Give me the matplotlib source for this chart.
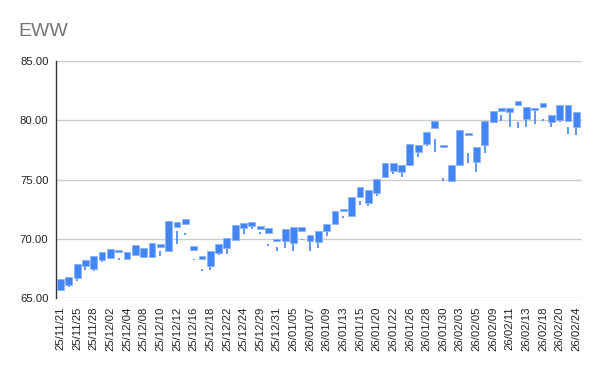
import matplotlib
matplotlib.use("Agg")
import matplotlib.pyplot as plt
import numpy as np

plt.rcParams["font.family"] = ["Liberation Sans", "DejaVu Sans"]

# trading days shown in the chart
dates = [
    "25/11/21", "25/11/24", "25/11/25", "25/11/26", "25/11/28",
    "25/12/01", "25/12/02", "25/12/03", "25/12/04", "25/12/05",
    "25/12/08", "25/12/09", "25/12/10", "25/12/11", "25/12/12",
    "25/12/15", "25/12/16", "25/12/17", "25/12/18", "25/12/19",
    "25/12/22", "25/12/23", "25/12/24", "25/12/26", "25/12/29",
    "25/12/30", "25/12/31", "26/01/02", "26/01/05", "26/01/06",
    "26/01/07", "26/01/08", "26/01/09", "26/01/12", "26/01/13",
    "26/01/14", "26/01/15", "26/01/16", "26/01/20", "26/01/21",
    "26/01/22", "26/01/23", "26/01/26", "26/01/27", "26/01/28",
    "26/01/29", "26/01/30", "26/02/02", "26/02/03", "26/02/04",
    "26/02/05", "26/02/06", "26/02/09", "26/02/10", "26/02/11",
    "26/02/12", "26/02/13", "26/02/17", "26/02/18", "26/02/19",
    "26/02/20", "26/02/23", "26/02/24",
]

# candle body (open / close) and wick (low / high)
open_ = [
    66.63, 66.80, 67.87, 68.23, 68.59, 68.93, 69.16, 69.08, 68.88, 69.50,
    69.22, 69.64, 69.56, 71.52, 71.46, 71.69, 69.41, 68.57, 68.99, 69.58,
    70.11, 71.21, 71.38, 71.44, 71.10, 70.93, 70.03, 70.87, 71.04, 71.04,
    70.32, 70.70, 71.27, 72.37, 72.54, 73.52, 74.42, 74.14, 75.04, 76.44,
    76.39, 76.22, 78.02, 77.96, 79.02, 79.96, 77.94, 76.25, 79.20, 78.92,
    77.79, 79.99, 80.83, 81.03, 81.03, 81.68, 81.12, 81.03, 81.46, 80.44,
    81.29, 81.29, 80.72,
]
close = [
    65.73, 66.12, 66.74, 67.75, 67.47, 68.23, 68.43, 68.93, 68.32, 68.65,
    68.51, 68.46, 69.30, 68.99, 71.02, 71.27, 69.05, 68.29, 67.75, 68.80,
    69.22, 69.92, 70.93, 71.10, 70.82, 70.54, 69.81, 69.86, 69.69, 70.70,
    69.86, 69.72, 70.70, 71.24, 72.39, 71.95, 73.57, 73.02, 73.86, 75.26,
    75.77, 75.66, 76.22, 77.37, 78.01, 79.36, 77.78, 74.87, 76.25, 78.81,
    76.50, 77.96, 79.90, 80.83, 80.75, 81.31, 80.16, 80.86, 81.17, 79.88,
    80.05, 79.99, 79.48,
]
low = [
    65.62, 65.98, 66.49, 67.41, 67.30, 68.04, 68.43, 68.21, 68.32, 68.57,
    68.38, 68.42, 68.60, 68.99, 69.56, 70.32, 68.19, 67.26, 67.39, 68.65,
    68.71, 69.92, 70.43, 70.82, 70.43, 69.40, 68.97, 69.24, 68.97, 69.90,
    69.02, 69.27, 70.28, 71.24, 71.75, 71.89, 72.85, 72.79, 73.63, 75.13,
    75.46, 75.21, 76.22, 76.90, 77.88, 77.37, 74.90, 74.81, 76.25, 76.44,
    75.68, 77.24, 79.90, 79.99, 79.48, 79.35, 79.48, 79.71, 79.92, 79.48,
    79.85, 78.86, 78.75,
]
high = [
    66.63, 66.80, 67.87, 68.23, 68.59, 68.93, 69.16, 68.43, 68.88, 69.50,
    69.22, 69.64, 69.02, 71.52, 70.68, 70.47, 68.34, 67.47, 68.99, 69.58,
    70.11, 71.21, 71.38, 71.44, 70.56, 69.54, 69.35, 70.87, 71.04, 70.00,
    70.32, 70.70, 71.27, 72.37, 71.95, 73.52, 73.24, 74.14, 75.04, 76.44,
    76.39, 76.22, 78.02, 77.96, 79.02, 78.42, 75.11, 76.25, 79.20, 77.24,
    77.79, 79.99, 80.83, 80.47, 81.03, 79.88, 81.12, 81.03, 80.12, 80.44,
    81.29, 79.48, 80.72,
]

BLUE = "#4285F4"

x = np.arange(len(dates))
o = np.array(open_)
c = np.array(close)

fig = plt.figure(figsize=(6.0, 3.71), dpi=100)
ax = fig.add_axes([0.0925, 0.196, 0.877, 0.639])

ax.vlines(x, low, high, color=BLUE, linewidth=1.2, capstyle="butt", zorder=2)
ax.bar(x, np.abs(o - c), bottom=np.minimum(o, c), width=0.82,
       color=BLUE, edgecolor="#8db4f8", linewidth=0.6, zorder=3)

ax.set_xlim(-0.6, 62.65)
ax.set_ylim(65, 85)
ax.set_yticks([65, 70, 75, 80, 85])
ax.set_yticklabels([f"{v:.2f}" for v in [65, 70, 75, 80, 85]])
ax.yaxis.grid(True, color="#cccccc", linewidth=1)
ax.set_axisbelow(True)

ax.set_xticks(x[::2])
ax.set_xticklabels(dates[::2], rotation=90)

for side in ["top", "right", "bottom"]:
    ax.spines[side].set_visible(False)
ax.spines["left"].set_color("#333333")
ax.spines["left"].set_linewidth(1)
ax.tick_params(axis="both", length=0, labelsize=8.2, colors="#222222")
ax.tick_params(axis="y", pad=5)
ax.tick_params(axis="x", pad=6)

fig.text(0.03, 0.915, "EWW", fontsize=14, color="#757575", va="center", ha="left")

fig.savefig("out.png", dpi=100)
